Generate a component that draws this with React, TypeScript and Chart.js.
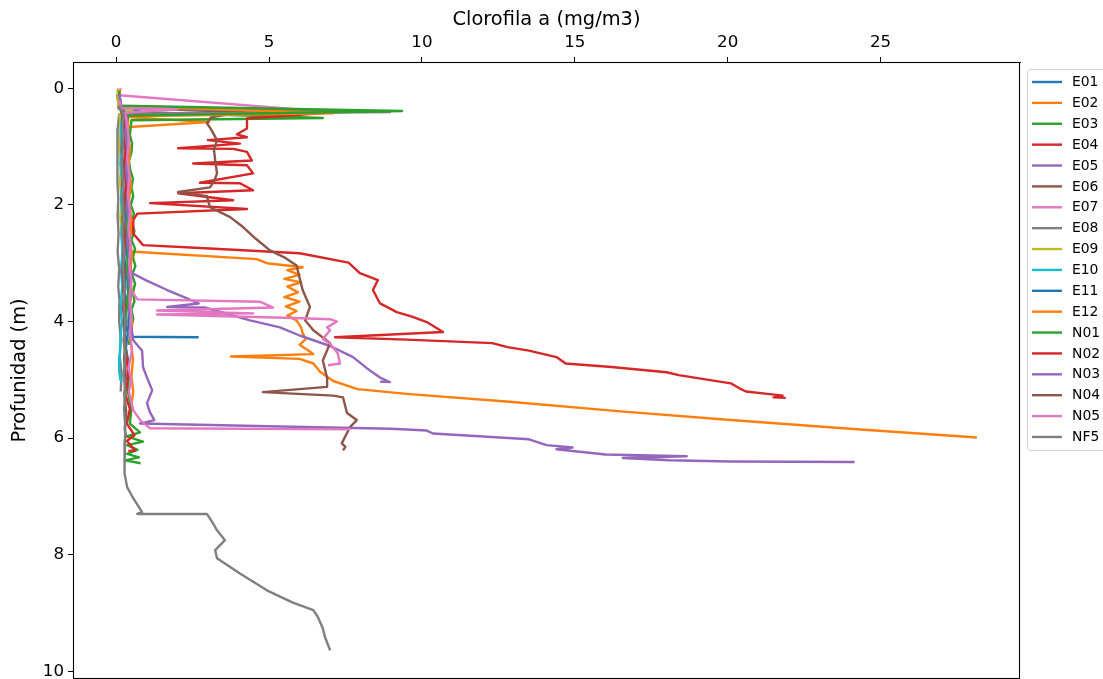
import React, { useEffect, useRef } from "react";
import { Chart, registerables } from "chart.js";

Chart.register(...registerables);

// Each series: [chlorophyll (mg/m3), depth (m)]
const E01 = [[0.08,0.05],[0.1,0.3],[0.9,0.42],[0.25,0.48],[0.2,0.7],[0.24,0.95],[0.18,1.2],[0.26,1.45],[0.2,1.7],[0.27,1.95],[0.22,2.2],[0.3,2.45],[0.24,2.7],[0.28,2.95],[0.33,3.2],[0.27,3.45],[0.35,3.7],[0.3,3.95],[0.38,4.2],[0.32,4.45],[0.4,4.7]];
const E02 = [[0.1,0.05],[0.12,0.3],[0.3,0.42],[0.5,0.5],[3.04,0.58],[0.3,0.67],[0.2,0.84],[0.32,1.0],[0.4,1.2],[0.36,1.4],[0.42,1.6],[0.36,1.8],[0.45,2.0],[0.4,2.2],[0.5,2.4],[0.45,2.6],[0.46,2.8],[4.6,2.93],[4.93,3.0],[6.1,3.07],[5.6,3.12],[6.0,3.2],[5.5,3.27],[6.05,3.33],[5.6,3.4],[5.95,3.5],[5.5,3.58],[6.0,3.66],[5.55,3.74],[5.9,3.82],[5.6,3.9],[5.9,3.98],[6.05,4.1],[6.1,4.2],[6.2,4.3],[6.0,4.4],[6.3,4.5],[6.45,4.56],[3.75,4.6],[6.0,4.64],[6.45,4.72],[6.67,4.86],[7.1,5.02],[7.9,5.16],[9.5,5.24],[12.97,5.38],[16.5,5.54],[20.1,5.69],[24.0,5.84],[28.15,5.99]];
const E03 = [[0.1,0.1],[0.2,0.4],[6.76,0.51],[0.5,0.55],[0.45,0.8],[0.52,0.95],[0.5,1.1],[0.42,1.25],[0.46,1.4],[0.55,1.55],[0.5,1.7],[0.56,1.85],[0.48,2.0],[0.58,2.15],[0.52,2.3],[0.6,2.45],[0.5,2.6],[0.62,2.75],[0.55,2.9],[0.63,3.05],[0.52,3.2],[0.62,3.35],[0.55,3.5],[0.6,3.65],[0.5,3.8],[0.56,3.95],[0.5,4.1],[0.45,4.25],[0.42,4.4]];
const E04 = [[0.05,0.1],[0.1,0.33],[7.25,0.41],[4.28,0.52],[4.28,0.69],[3.95,0.79],[4.28,0.84],[3.0,0.89],[4.05,0.95],[2.03,1.03],[3.83,1.04],[4.28,1.09],[4.44,1.24],[2.52,1.29],[4.28,1.32],[4.48,1.46],[2.74,1.62],[4.05,1.63],[4.48,1.75],[2.03,1.8],[3.83,1.92],[1.11,1.97],[4.28,2.07],[0.69,2.15],[0.56,2.26],[0.56,2.49],[0.88,2.69],[2.75,2.74],[6.0,2.83],[7.6,2.99],[7.97,3.17],[8.56,3.29],[8.4,3.46],[8.63,3.69],[9.18,3.84],[9.7,3.92],[10.16,4.01],[10.69,4.18],[7.16,4.27],[9.5,4.31],[12.3,4.37],[12.8,4.44],[13.5,4.5],[14.4,4.61],[14.7,4.72],[16.2,4.78],[18.0,4.87],[18.4,4.92],[20.1,5.06],[20.4,5.15],[20.6,5.2],[21.3,5.24],[21.8,5.27],[21.5,5.3],[21.9,5.31]];
const E05 = [[0.05,0.1],[0.1,0.32],[5.5,0.38],[0.3,0.45],[0.28,0.7],[0.33,1.0],[0.27,1.3],[0.32,1.6],[0.26,1.9],[0.3,2.2],[0.34,2.5],[0.3,2.8],[0.45,3.05],[0.52,3.17],[1.0,3.3],[1.67,3.46],[2.3,3.6],[2.7,3.69],[1.67,3.75],[2.9,3.76],[3.5,3.85],[4.38,3.98],[5.36,4.1],[6.0,4.24],[7.0,4.42],[7.75,4.61],[8.2,4.8],[8.63,4.96],[8.95,5.04],[8.63,5.03]];
const E06 = [[0.05,0.1],[0.1,0.33],[4.15,0.41],[3.1,0.5],[2.97,0.6],[3.1,0.7],[3.3,0.89],[3.2,1.05],[3.24,1.24],[3.3,1.46],[3.2,1.6],[3.07,1.7],[2.03,1.78],[2.97,1.85],[3.0,1.92],[3.07,2.04],[3.73,2.21],[4.15,2.38],[4.5,2.55],[5.03,2.78],[5.5,2.9],[5.9,3.04],[6.0,3.25],[6.1,3.46],[6.34,3.75],[6.18,3.98],[6.45,4.15],[7.0,4.37],[6.76,4.67],[6.9,4.97],[6.9,5.12],[4.8,5.21],[7.1,5.27],[7.42,5.3],[7.55,5.57],[7.87,5.69],[7.65,5.81],[7.38,6.09],[7.5,6.15],[7.42,6.21]];
const E07 = [[0.15,0.0],[0.1,0.12],[7.1,0.41],[0.3,0.46],[0.35,0.7],[0.3,1.0],[0.38,1.3],[0.32,1.6],[0.4,1.9],[0.35,2.2],[0.42,2.5],[0.36,2.8],[0.44,3.1],[0.4,3.4],[0.7,3.62],[4.7,3.66],[5.13,3.76],[1.34,3.81],[4.48,3.86],[1.34,3.88],[5.8,3.94],[7.0,3.96],[7.22,4.0],[6.9,4.1],[7.0,4.15],[6.76,4.3],[7.0,4.38],[7.25,4.55],[7.32,4.72],[6.93,4.75]];
const E08 = [[0.05,0.15],[0.08,0.35],[8.95,0.41],[0.1,0.45],[0.05,0.7],[0.03,1.0],[0.06,1.3],[0.04,1.6],[0.07,1.9],[0.05,2.2],[0.08,2.5],[0.05,2.8],[0.1,3.1],[0.07,3.4],[0.12,3.7],[0.1,4.0],[0.15,4.3],[0.12,4.6],[0.18,4.9],[0.15,5.2]];
const E09 = [[0.05,0.02],[0.06,0.15],[0.07,0.3],[0.55,0.39],[0.12,0.45],[0.15,0.7],[0.12,1.0],[0.16,1.3],[0.13,1.6],[0.17,1.9],[0.14,2.2],[0.18,2.5]];
const E10 = [[0.1,0.3],[0.2,0.45],[0.15,0.7],[0.18,1.0],[0.14,1.3],[0.2,1.6],[0.16,1.9],[0.22,2.2],[0.17,2.5],[0.21,2.8],[0.16,3.1],[0.2,3.4],[0.15,3.7],[0.19,4.0],[0.14,4.3],[0.12,4.6],[0.1,4.85],[0.14,5.0],[0.2,5.03]];
const E11 = [[0.1,0.3],[0.3,0.45],[0.35,0.7],[0.3,1.0],[0.36,1.3],[0.31,1.6],[0.38,1.9],[0.33,2.2],[0.4,2.5],[0.35,2.8],[0.42,3.1],[0.37,3.4],[0.44,3.7],[0.4,4.0],[0.45,4.2],[0.45,4.26],[2.7,4.27]];
const E12 = [[0.1,0.05],[0.12,0.3],[7.1,0.43],[0.4,0.48],[0.38,0.75],[0.45,1.05],[0.4,1.35],[0.48,1.65],[0.42,1.95],[0.5,2.25],[0.44,2.55],[0.52,2.85],[0.46,3.15],[0.5,3.45],[0.45,3.75],[0.52,4.05],[0.48,4.35],[0.55,4.65],[0.5,4.95],[0.56,5.2],[0.5,5.45]];
const N01 = [[0.1,0.05],[0.15,0.3],[9.35,0.39],[0.4,0.47],[0.3,0.7],[0.35,1.0],[0.28,1.3],[0.36,1.6],[0.3,1.9],[0.38,2.2],[0.32,2.5],[0.4,2.8],[0.35,3.1],[0.42,3.4],[0.36,3.7],[0.3,4.0],[0.25,4.3],[0.35,4.6],[0.42,4.9],[0.38,5.2],[0.5,5.5],[0.45,5.75],[0.78,5.9],[0.35,5.97],[0.88,6.06],[0.36,6.12],[0.7,6.2],[0.36,6.27],[0.75,6.33],[0.3,6.38],[0.8,6.43]];
const N02 = [[0.1,0.3],[0.3,0.45],[0.25,0.75],[0.32,1.05],[0.26,1.35],[0.34,1.65],[0.28,1.95],[0.22,2.25],[0.3,2.55],[0.25,2.85],[0.2,3.15],[0.28,3.45],[0.22,3.75],[0.3,4.05],[0.25,4.35],[0.35,4.65],[0.4,4.95],[0.3,5.25],[0.45,5.5],[0.35,5.75],[0.6,5.95],[0.35,6.05],[0.62,6.21],[0.4,6.22]];
const N03 = [[0.1,0.1],[0.2,0.4],[0.35,0.5],[0.3,0.8],[0.38,1.1],[0.32,1.4],[0.4,1.7],[0.35,2.0],[0.42,2.3],[0.36,2.6],[0.45,2.9],[0.4,3.2],[0.48,3.5],[0.42,3.8],[0.5,4.1],[0.56,4.32],[0.85,4.5],[0.88,4.78],[1.0,4.95],[1.18,5.18],[1.01,5.4],[1.1,5.55],[1.25,5.69],[0.78,5.75],[5.36,5.8],[9.0,5.84],[10.16,5.87],[10.36,5.92],[13.5,6.02],[14.08,6.12],[14.93,6.16],[14.4,6.19],[16.0,6.28],[18.66,6.31],[16.57,6.34],[18.1,6.38],[20.07,6.4],[24.15,6.41]];
const N04 = [[0.1,0.3],[0.2,0.45],[0.22,0.75],[0.18,1.05],[0.24,1.35],[0.2,1.65],[0.26,1.95],[0.21,2.25],[0.27,2.55],[0.22,2.85],[0.28,3.15],[0.23,3.45],[0.3,3.75],[0.25,4.05],[0.3,4.35],[0.26,4.65],[0.32,4.95],[0.27,5.25],[0.33,5.55],[0.28,5.85],[0.33,6.0]];
const N05 = [[0.1,0.2],[0.15,0.34],[2.0,0.36],[0.3,0.42],[0.35,0.6],[0.42,0.9],[0.36,1.2],[0.44,1.5],[0.38,1.8],[0.46,2.1],[0.4,2.4],[0.48,2.7],[0.42,3.0],[0.5,3.3],[0.44,3.6],[0.5,3.9],[0.45,4.2],[0.52,4.5],[0.4,4.8],[0.5,5.0],[0.42,5.2],[0.56,5.52],[0.8,5.7],[1.11,5.83],[7.65,5.85]];
const NF5 = [[0.1,0.3],[0.25,0.45],[0.2,0.7],[0.22,1.0],[0.18,1.3],[0.24,1.6],[0.2,1.9],[0.25,2.2],[0.2,2.5],[0.26,2.8],[0.22,3.1],[0.28,3.4],[0.24,3.7],[0.3,4.0],[0.26,4.3],[0.3,4.6],[0.25,4.9],[0.3,5.2],[0.26,5.5],[0.3,5.8],[0.29,6.04],[0.26,6.3],[0.29,6.6],[0.36,6.84],[0.56,7.03],[0.85,7.27],[0.69,7.3],[2.97,7.3],[3.17,7.46],[3.3,7.58],[3.56,7.75],[3.24,7.92],[3.3,8.06],[4.05,8.32],[4.93,8.61],[5.78,8.82],[6.45,8.95],[6.6,9.07],[6.76,9.26],[6.83,9.41],[7.0,9.64]];

const stations = ["E01","E02","E03","E04","E05","E06","E07","E08","E09","E10","E11","E12","N01","N02","N03","N04","N05","NF5"];
const seriesData = [E01,E02,E03,E04,E05,E06,E07,E08,E09,E10,E11,E12,N01,N02,N03,N04,N05,NF5];
const colors = ["#1f77b4","#ff7f0e","#2ca02c","#d62728","#9467bd","#8c564b","#e377c2","#7f7f7f","#bcbd22","#17becf","#1f77b4","#ff7f0e","#2ca02c","#d62728","#9467bd","#8c564b","#e377c2","#7f7f7f"];

const xTicks = [0, 5, 10, 15, 20, 25];
const yTicks = [0, 2, 4, 6, 8, 10];
const xTitle = "Clorofila a (mg/m3)";
const yTitle = "Profunidad (m)";

const FONT = "'DejaVu Sans', sans-serif";

const framePlugin = {
  id: "frame",
  afterDraw(chart: any) {
    const { ctx, chartArea } = chart;
    ctx.save();
    ctx.strokeStyle = "#000";
    ctx.lineWidth = 1.1;
    ctx.strokeRect(chartArea.left + 0.5, chartArea.top + 0.5, chartArea.right - chartArea.left - 1, chartArea.bottom - chartArea.top - 1);
    ctx.restore();
  },
};

const legendPlugin = {
  id: "mplLegend",
  afterDraw(chart: any) {
    const { ctx } = chart;
    const datasets = chart.data.datasets;
    const left = 1027.5;
    const top = 69.5;
    const spacing = 20.88;
    const height = 381;
    ctx.save();
    ctx.fillStyle = "rgba(255,255,255,0.8)";
    ctx.strokeStyle = "#d0d0d0";
    ctx.lineWidth = 1;
    ctx.beginPath();
    const w = 120, r = 3;
    ctx.moveTo(left + r, top);
    ctx.lineTo(left + w, top);
    ctx.lineTo(left + w, top + height);
    ctx.lineTo(left + r, top + height);
    ctx.arcTo(left, top + height, left, top + height - r, r);
    ctx.lineTo(left, top + r);
    ctx.arcTo(left, top, left + r, top, r);
    ctx.closePath();
    ctx.fill();
    ctx.stroke();
    ctx.font = `13.9px ${FONT}`;
    ctx.textBaseline = "middle";
    ctx.textAlign = "left";
    datasets.forEach((ds: any, i: number) => {
      const y = 82 + i * spacing;
      ctx.strokeStyle = ds.borderColor;
      ctx.lineWidth = 2.4;
      ctx.beginPath();
      ctx.moveTo(1032, y);
      ctx.lineTo(1062, y);
      ctx.stroke();
      ctx.fillStyle = "#000";
      ctx.fillText(ds.label, 1072, y + 0.5);
    });
    ctx.restore();
  },
};

export default function App() {
  const ref = useRef<HTMLCanvasElement | null>(null);
  useEffect(() => {
    if (!ref.current) return;
    const n = stations.length;
    const chart = new Chart(ref.current, {
      type: "scatter",
      data: {
        datasets: stations.map((name, i) => ({
          label: name,
          data: seriesData[i].map((p) => ({ x: p[0], y: p[1] })),
          showLine: true,
          borderColor: colors[i],
          backgroundColor: colors[i],
          borderWidth: 2.4,
          pointRadius: 0,
          pointHoverRadius: 0,
          tension: 0,
          borderJoinStyle: "round",
          order: n - i,
        })),
      },
      options: {
        responsive: false,
        animation: false,
        devicePixelRatio: 1,
        events: [],
        layout: { padding: { left: 0, top: 0, right: 83, bottom: 0 } },
        plugins: {
          legend: { display: false },
          tooltip: { enabled: false },
        },
        scales: {
          x: {
            type: "linear",
            position: "top",
            min: -1.41,
            max: 29.56,
            afterBuildTicks: (scale: any) => {
              scale.ticks = xTicks.map((v) => ({ value: v }));
            },
            afterFit: (scale: any) => {
              scale.height = 62;
              scale.paddingLeft = 0;
              scale.paddingRight = 0;
            },
            grid: { display: true, drawOnChartArea: false, drawTicks: true, tickLength: 5, tickColor: "#000", tickWidth: 1 },
            border: { display: true, color: "#000", width: 1 },
            ticks: { color: "#000", font: { family: FONT, size: 16.7 }, padding: 4, maxRotation: 0 },
            title: { display: true, text: xTitle, color: "#000", font: { family: FONT, size: 19.4 }, padding: { top: 8, bottom: 0 } },
          },
          y: {
            type: "linear",
            position: "left",
            reverse: true,
            min: -0.45,
            max: 10.13,
            afterBuildTicks: (scale: any) => {
              scale.ticks = yTicks.map((v) => ({ value: v }));
            },
            afterFit: (scale: any) => {
              scale.width = 73;
              scale.paddingTop = 0;
              scale.paddingBottom = 0;
            },
            grid: { display: true, drawOnChartArea: false, drawTicks: true, tickLength: 5, tickColor: "#000", tickWidth: 1 },
            border: { display: true, color: "#000", width: 1 },
            ticks: { color: "#000", font: { family: FONT, size: 16.7 }, padding: 4 },
            title: { display: true, text: yTitle, color: "#000", font: { family: FONT, size: 19.4 }, padding: { top: 8, bottom: 0 } },
          },
        },
      } as any,
      plugins: [framePlugin, legendPlugin],
    });
    return () => chart.destroy();
  }, []);
  return (
    <div style={{ position: "fixed", left: 0, top: 0, width: 1103, height: 679, background: "#fff" }}>
      <canvas ref={ref} width={1103} height={679} style={{ width: 1103, height: 679, display: "block" }} />
    </div>
  );
}
